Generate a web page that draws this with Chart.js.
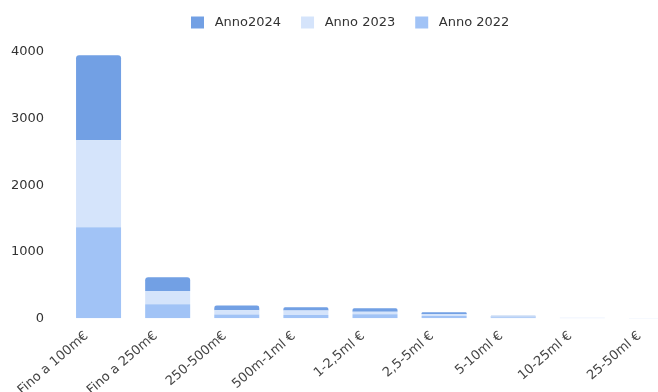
<!DOCTYPE html>
<html>
<head>
<meta charset="utf-8">
<script src="https://cdn.jsdelivr.net/npm/chart.js@4/dist/chart.umd.min.js"></script>
<style>
  html, body { margin: 0; padding: 0; background: #fff; overflow: hidden; }
  #wrap { position: relative; width: 720px; height: 392px; }
</style>
</head>
<body>
<div id="wrap"><canvas id="c"></canvas></div>
<script>
// Fasce di importo
const categories = ['Fino a 100m€', 'Fino a 250m€', '250-500m€', '500m-1ml €', '1-2,5ml €', '2,5-5ml €', '5-10ml €', '10-25ml €', '25-50ml €'];

// Numero di operazioni per anno
const anno2022 = [1367, 210, 56, 51, 60, 35, 15, 4, 1];
const anno2023 = [1309, 200, 65, 65, 40, 25, 12, 3, 1];
const anno2024 = [1274, 205, 70, 50, 50, 30, 13, 3, 1];

const yTicks = [0, 1000, 2000, 3000, 4000];

const FONT = '"DejaVu Sans", sans-serif';

// Legend row: fixed height above the plot and fixed starting point
const LEGEND_HEIGHT = 52;
const LEGEND_X = 191;
const LEGEND_Y = 16;
const legendPlace = {
  id: 'legendPlace',
  afterInit(chart) {
    const lg = chart.legend;
    const fit = lg.fit;
    lg.fit = function () { fit.call(this); this.height = LEGEND_HEIGHT; };
  },
  beforeDraw(chart) {
    const lg = chart.legend;
    const pad = lg.options.labels.padding;
    lg.left = LEGEND_X - pad;
    lg.top = LEGEND_Y - pad;
  }
};

new Chart(document.getElementById('c'), {
  type: 'bar',
  data: {
    labels: categories,
    datasets: [
      { label: 'Anno 2022', data: anno2022, backgroundColor: '#a1c3f6', borderWidth: 0 },
      { label: 'Anno 2023', data: anno2023, backgroundColor: '#d5e4fb', borderWidth: 0 },
      { label: 'Anno2024', data: anno2024, backgroundColor: '#72a0e4', borderWidth: 0,
        borderRadius: { topLeft: 3, topRight: 3, bottomLeft: 0, bottomRight: 0 }, borderSkipped: false }
    ]
  },
  options: {
    responsive: true,
    maintainAspectRatio: false,
    animation: false,
    layout: { padding: { left: 11, right: 34, top: 0, bottom: 0 } },
    datasets: { bar: { categoryPercentage: 0.8, barPercentage: 0.814 } },
    plugins: {
      tooltip: { enabled: false },
      legend: {
        position: 'top',
        align: 'start',
        reverse: true,
        labels: {
          boxWidth: 13, boxHeight: 12, padding: 20,
          color: '#333', font: { family: FONT, size: 13 },
          generateLabels(chart) {
            const items = Chart.defaults.plugins.legend.labels.generateLabels(chart);
            items.forEach(it => { it.text = ' ' + it.text; });
            return items;
          }
        }
      }
    },
    scales: {
      x: {
        stacked: true,
        grid: { display: false, drawTicks: false },
        border: { display: false },
        afterFit(axis) { axis.paddingLeft = 0; axis.paddingRight = 0; axis.height = 73.7; },
        ticks: {
          autoSkip: false, maxRotation: 41, minRotation: 41, padding: 10, labelOffset: -12,
          color: '#444', font: { family: FONT, size: 13 }
        }
      },
      y: {
        stacked: true,
        min: 0, max: 4000,
        afterBuildTicks(axis) { axis.ticks = yTicks.map(v => ({ value: v })); },
        afterFit(axis) { axis.width = 53; },
        grid: { display: false, drawTicks: false },
        border: { display: false },
        ticks: {
          padding: 20,
          color: '#333', font: { family: FONT, size: 13 },
          callback: v => String(v)
        }
      }
    }
  },
  plugins: [legendPlace]
});
</script>
</body>
</html>
